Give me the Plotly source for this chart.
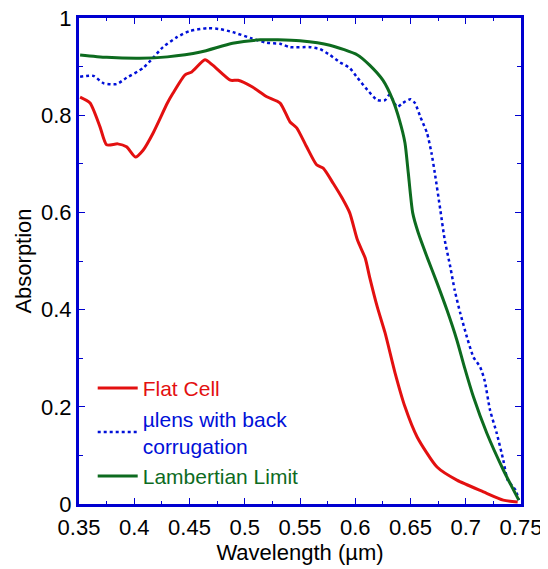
import plotly.graph_objects as go

# Flat Cell
flat_x = [0.351, 0.360, 0.369, 0.375, 0.385, 0.393, 0.401, 0.408, 0.417, 0.430, 0.435, 0.446, 0.452,
          0.464, 0.471, 0.487, 0.494, 0.507, 0.520, 0.532, 0.541, 0.547, 0.556, 0.565, 0.571, 0.580,
          0.588, 0.595, 0.602, 0.609, 0.613, 0.620, 0.627, 0.636, 0.645, 0.656, 0.674, 0.692, 0.716,
          0.734, 0.747]
flat_y = [0.837, 0.825, 0.776, 0.739, 0.741, 0.735, 0.714, 0.728, 0.763, 0.825, 0.845, 0.883, 0.889,
          0.914, 0.903, 0.872, 0.872, 0.858, 0.838, 0.825, 0.786, 0.774, 0.735, 0.698, 0.691, 0.660,
          0.630, 0.599, 0.543, 0.506, 0.467, 0.405, 0.352, 0.270, 0.200, 0.138, 0.076, 0.049, 0.025,
          0.008, 0.004]

# µlens with back corrugation
lens_x = [0.351, 0.363, 0.372, 0.384, 0.393, 0.408, 0.417, 0.426, 0.439, 0.450, 0.466, 0.478, 0.489,
          0.505, 0.520, 0.532, 0.541, 0.559, 0.568, 0.577, 0.586, 0.595, 0.602, 0.611, 0.620, 0.627,
          0.631, 0.638, 0.643, 0.650, 0.654, 0.659, 0.665, 0.669, 0.672, 0.677, 0.681, 0.686, 0.690,
          0.695, 0.701, 0.707, 0.713, 0.717, 0.722, 0.728, 0.734, 0.738, 0.745, 0.748]
lens_y = [0.879, 0.881, 0.866, 0.864, 0.877, 0.897, 0.918, 0.940, 0.961, 0.973, 0.979, 0.977, 0.971,
          0.959, 0.949, 0.947, 0.940, 0.940, 0.936, 0.924, 0.909, 0.897, 0.877, 0.852, 0.831, 0.831,
          0.842, 0.817, 0.825, 0.833, 0.825, 0.796, 0.763, 0.722, 0.681, 0.605, 0.543, 0.488, 0.440,
          0.393, 0.344, 0.302, 0.282, 0.255, 0.193, 0.146, 0.090, 0.049, 0.029, 0.008]

# Lambertian Limit
lamb_x = [0.351, 0.375, 0.405, 0.430, 0.460, 0.489, 0.514, 0.530, 0.550, 0.577, 0.602, 0.613, 0.625,
          0.634, 0.640, 0.645, 0.648, 0.652, 0.657, 0.665, 0.674, 0.683, 0.692, 0.699, 0.707, 0.719,
          0.734, 0.748]
lamb_y = [0.924, 0.919, 0.917, 0.920, 0.930, 0.948, 0.955, 0.955, 0.953, 0.944, 0.924, 0.903, 0.872,
          0.831, 0.790, 0.743, 0.681, 0.599, 0.558, 0.508, 0.455, 0.399, 0.337, 0.280, 0.220, 0.146,
          0.070, 0.008]

RED = "#e31010"
BLUE = "#0010d8"
GREEN = "#0d6b1f"
FRAME = "#0000d0"
FONT = "Liberation Sans, Arial, sans-serif"

fig = go.Figure()
fig.add_trace(go.Scatter(x=flat_x, y=flat_y, mode="lines", line=dict(color=RED, width=3, shape="spline", smoothing=0.6),
                         name=f"<span style='color:{RED}'>Flat Cell</span>"))
fig.add_trace(go.Scatter(x=lens_x, y=lens_y, mode="lines", line=dict(color=BLUE, width=2.5, dash="dot", shape="spline", smoothing=0.6),
                         name=f"<span style='color:{BLUE}'>\u00b5lens with back<br>corrugation</span>"))
fig.add_trace(go.Scatter(x=lamb_x, y=lamb_y, mode="lines", line=dict(color=GREEN, width=3, shape="spline", smoothing=0.6),
                         name=f"<span style='color:{GREEN}'>Lambertian Limit</span>"))

# page body has an 8px default margin, so the figure is 8px smaller and offset
fig.update_layout(
    width=540, height=561,
    margin=dict(l=71, r=27, t=10, b=65),
    paper_bgcolor="white", plot_bgcolor="white",
    font=dict(family=FONT, size=22, color="black"),
    showlegend=True,
    legend=dict(x=0.031, y=0.28, xanchor="left", yanchor="top", bgcolor="rgba(0,0,0,0)",
                font=dict(family=FONT, size=21), tracegroupgap=0, itemwidth=40),
    xaxis=dict(range=[0.35, 0.75], dtick=0.05, tick0=0.35, showgrid=False, zeroline=False, automargin=False,
               showline=True, linecolor=FRAME, linewidth=3, mirror="allticks", ticklabeloverflow="allow",
               ticks="inside", ticklen=6, tickcolor=FRAME, tickwidth=1, ticklabelstandoff=2,
               minor=dict(dtick=0.025, ticks="inside", ticklen=3, tickcolor=FRAME),
               tickfont=dict(size=22),
               title=dict(text="Wavelength (\u00b5m)", font=dict(size=22), standoff=0)),
    yaxis=dict(range=[0, 1], dtick=0.2, showgrid=False, zeroline=False, automargin=False,
               showline=True, linecolor=FRAME, linewidth=3, mirror="allticks", ticklabeloverflow="allow",
               ticks="inside", ticklen=6, tickcolor=FRAME, tickwidth=1,
               minor=dict(dtick=0.1, ticks="inside", ticklen=4, tickcolor=FRAME),
               tickfont=dict(size=22),
               title=dict(text="Absorption", font=dict(size=22), standoff=4)),
)

fig.write_html("out.html")
